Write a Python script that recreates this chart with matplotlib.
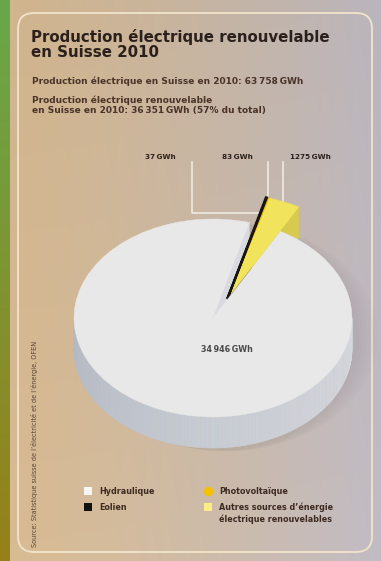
import matplotlib
matplotlib.use('Agg')
import matplotlib.pyplot as plt
import numpy as np
from matplotlib.patches import Polygon, FancyBboxPatch, Ellipse
from matplotlib.collections import PolyCollection

W, H = 381, 561

# pie data, counter-clockwise from the start angle
sources = ['Autres sources d\u2019énergie\nélectrique renouvelables', 'Photovoltaïque', 'Eolien', 'Hydraulique']
gwh = [1275, 83, 37, 34946]
top_colors = ['#f1e35c', '#f2c300', '#1b1512', '#e8e8e9']
side_colors = ['#d8ca4e', '#d9a900', '#0e0b09', '#c9cdd3']
pulled_out = [True, True, True, False]
start_angle = 61
pull_dist, pull_dir = 0.22, 62     # small slices moved out together
small_radius = 1.06

# legend layout (label, colour, marker)
legend_items = [('Hydraulique', '#f6f6f4', 's'), ('Eolien', '#111111', 's'),
                ('Photovoltaïque', '#f5c000', 'o'),
                ('Autres sources d\u2019énergie\nélectrique renouvelables', '#f8ee85', 's')]

title = 'Production électrique renouvelable\nen Suisse 2010'
sub1 = 'Production électrique en Suisse en 2010: 63\u2009758\u2009GWh'
sub2 = 'Production électrique renouvelable\nen Suisse en 2010: 36\u2009351\u2009GWh (57% du total)'
source = 'Source: Statistique suisse de l\u2019électricité et de l\u2019énergie, OFEN'

plt.rcParams['font.family'] = ['DejaVu Sans']

fig = plt.figure(figsize=(W / 100, H / 100), dpi=100)

# ---- background (pixel coordinates)
ax = fig.add_axes([0, 0, 1, 1])
ax.set_xlim(0, W)
ax.set_ylim(H, 0)
ax.axis('off')

xs = np.linspace(0, 1, 200)
ys = np.linspace(0, 1, 200)
left = np.array([208, 180, 141]) / 255
right = np.array([186, 181, 189]) / 255
grad = left[None, None, :] * (1 - xs[None, :, None] ** 1.3) + right[None, None, :] * xs[None, :, None] ** 1.3
grad = grad * (1 + 0.04 * ys[:, None, None])
ax.imshow(np.clip(grad, 0, 1), extent=(0, W, H, 0), aspect='auto', zorder=0)

strip_top = np.array([104, 168, 74]) / 255
strip_bot = np.array([150, 128, 25]) / 255
strip = strip_top[None, None, :] * (1 - ys[:, None, None]) + strip_bot[None, None, :] * ys[:, None, None]
ax.imshow(strip, extent=(0, 10, H, 0), aspect='auto', zorder=1)

ax.add_patch(FancyBboxPatch((18, 13), 354, 539, boxstyle='round,pad=0,rounding_size=16',
                            fill=False, ec='#f1e4cb', lw=1.3, zorder=2))

dark = '#2b201c'
ax.text(31, 57, title, fontsize=10.8, fontweight='bold', color=dark, va='baseline',
        linespacing=1.0, zorder=3)
ax.text(32, 84, sub1, fontsize=6.5, fontweight='bold', color='#4a3329', va='baseline', zorder=3)
ax.text(32, 113, sub2, fontsize=6.5, fontweight='bold', color='#4a3329', va='baseline',
        linespacing=1.15, zorder=3)
ax.text(35, 547, source, fontsize=4.7, color='#5a4535', rotation=90, ha='left', va='center',
        rotation_mode='anchor', zorder=3)

# callout lines and labels for the small slices
lc = '#f4efe4'
ax.plot([192, 192, 262], [162, 213, 213], color=lc, lw=1.1, zorder=3)
ax.plot([268, 268], [162, 205], color=lc, lw=1.1, zorder=3)
ax.plot([283, 283], [162, 205], color=lc, lw=1.1, zorder=3)
lab_fs = 5.2
ax.text(176, 159, f'{gwh[2]}\u2009GWh', fontsize=lab_fs, fontweight='bold', color=dark, ha='right', va='baseline')
ax.text(253, 159, f'{gwh[1]}\u2009GWh', fontsize=lab_fs, fontweight='bold', color=dark, ha='right', va='baseline')
ax.text(290, 159, f'{gwh[0]}\u2009GWh', fontsize=lab_fs, fontweight='bold', color=dark, ha='left', va='baseline')

# legend
leg_pos = [(88, 491), (88, 507), (208, 491), (208, 507)]
for (lab, col, mk), (lx, ly) in zip(legend_items, leg_pos):
    ax.scatter([lx], [ly], marker=mk, s=36 if mk == 's' else 46, color=col, zorder=4, linewidths=0)
    if '\n' in lab:
        ax.text(lx + 11, ly - 4.5, lab, fontsize=5.8, fontweight='bold', color='#3d2a22',
                va='top', linespacing=1.35, zorder=4)
    else:
        ax.text(lx + 11, ly, lab, fontsize=5.8, fontweight='bold', color='#3d2a22',
                va='center', zorder=4)

# ---- 3D pie: unit circle mapped onto an ellipse
cx, cy, a, b = 213, 318, 139, 99
thick = 31 / b
axp = fig.add_axes([0, 0, 1, 1])
wedges, _ = axp.pie(gwh, colors=top_colors, startangle=start_angle,
                    counterclock=True, wedgeprops=dict(lw=0.3))
axp.set_aspect('auto')
axp.set_xlim(-cx / a, (W - cx) / a)
axp.set_ylim((cy - H) / b, cy / b)
axp.axis('off')
axp.patch.set_visible(False)

fracs = np.array(gwh) / np.sum(gwh)
theta1 = start_angle + 360 * np.concatenate([[0], np.cumsum(fracs)[:-1]])
theta2 = theta1 + 360 * fracs
pdx = pull_dist * np.cos(np.deg2rad(pull_dir))
pdy = pull_dist * np.sin(np.deg2rad(pull_dir))

for i, w in enumerate(wedges):
    w.set_edgecolor(top_colors[i])
    if pulled_out[i]:
        w.set_center((pdx, pdy))
        w.set_radius(small_radius)
        w.set_zorder(3)
    else:
        w.set_zorder(5)
wedges[2].set_linewidth(1.7)   # very thin slices given a visible stroke
wedges[1].set_linewidth(0.8)

# radial side faces (visible on the clockwise side of each pulled-out slice)
for i in range(3):
    t = np.deg2rad(theta1[i])
    r = small_radius
    pts = [(pdx, pdy), (pdx + r * np.cos(t), pdy + r * np.sin(t)),
           (pdx + r * np.cos(t), pdy + r * np.sin(t) - thick), (pdx, pdy - thick)]
    axp.add_patch(Polygon(pts, closed=True, fc=side_colors[i], ec=side_colors[i], lw=0.3, zorder=2))

# hydro radial face facing the gap
t = np.deg2rad(theta1[3])
pts = [(0, 0), (np.cos(t), np.sin(t)), (np.cos(t), np.sin(t) - thick), (0, -thick)]
axp.add_patch(Polygon(pts, closed=True, fc='#d8dadf', ec='#d8dadf', lw=0.3, zorder=1))

# soft shadow on the right of the pie
for k in range(6):
    axp.add_patch(Ellipse((0.05 + 0.012 * k, -thick / 2 - 0.03), 2.0 + 0.03 * k, 2.0 + thick,
                          fc='#6a6270', ec='none', alpha=0.025, zorder=0.5))

# front side face of the main pie with a soft gradient
ang = np.deg2rad(np.linspace(180, 360, 181))
quads, cols = [], []
c_left = np.array([178, 184, 195]) / 255
c_mid = np.array([200, 204, 211]) / 255
c_right = np.array([214, 216, 221]) / 255
for k in range(len(ang) - 1):
    a0, a1 = ang[k], ang[k + 1]
    quads.append([(np.cos(a0), np.sin(a0)), (np.cos(a1), np.sin(a1)),
                  (np.cos(a1), np.sin(a1) - thick), (np.cos(a0), np.sin(a0) - thick)])
    u = k / (len(ang) - 2)
    c = c_left + (c_mid - c_left) * (u / 0.5) if u < 0.5 else c_mid + (c_right - c_mid) * ((u - 0.5) / 0.5)
    cols.append(c)
axp.add_collection(PolyCollection(quads, facecolors=cols, edgecolors=cols, lw=0.4, zorder=4))

axp.text((227 - cx) / a, (cy - 350) / b, f'{gwh[3]:,}'.replace(',', '\u2009') + '\u2009GWh',
         fontsize=5.8, fontweight='bold', color='#4a4a4a', ha='center', va='center', zorder=6)

fig.savefig('out.png', dpi=100)
